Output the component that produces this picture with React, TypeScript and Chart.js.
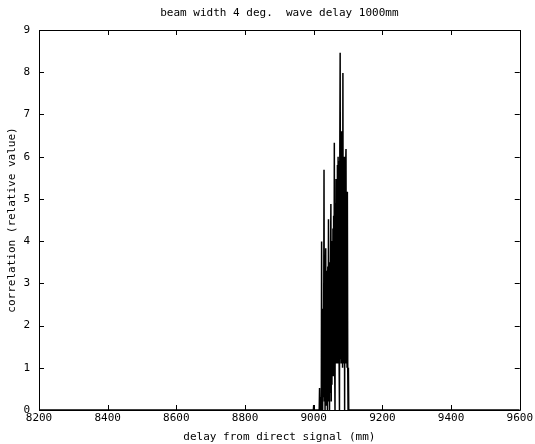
import { useEffect, useRef } from "react";
import { Chart, registerables } from "chart.js";

Chart.register(...registerables);

// Correlation samples, one per millimetre of delay, starting at DELAY_START.
const DELAY_START = 8999;
const DELAY_STEP = 1;
const CORRELATION = [
  0, 0.12, 0, 0, 0, 0, 0, 0, 0, 0,
  0, 0, 0, 0, 0, 0, 0, 0, 0.52, 0,
  0.15, 0, 0.3, 0, 3.99, 0.1, 1.6, 0, 2.4, 0.3,
  1.8, 5.69, 0.2, 2.6, 0, 3.1, 3.83, 0.1, 3.3, 0.4,
  2.9, 0, 3.4, 0.2, 4.52, 0.3, 3.5, 0, 3.2, 0.4,
  3.6, 4.88, 0.2, 3.3, 0.6, 4.0, 1.1, 4.3, 0.8, 4.6,
  1.2, 6.33, 1.1, 0, 4.9, 1.2, 5.47, 1.1, 5.3, 1.3,
  5.8, 1.1, 6.0, 1.2, 5.9, 1.1, 0, 6.2, 8.46, 1.2,
  6.6, 1.1, 6.5, 1.3, 6.6, 1.0, 7.98, 1.1, 6.0, 1.2,
  5.9, 0, 6.0, 1.1, 5.8, 6.18, 1.1, 4.6, 1.0, 5.17,
  1.1, 0, 1.0, 0, 0, 0,
];

// Delay range shown on the x axis (mm); the trace is flat at zero outside the burst.
const DELAY_MIN = 8200;
const DELAY_MAX = 9600;
const X_TICKS = [8200, 8400, 8600, 8800, 9000, 9200, 9400, 9600];
const Y_TICKS = [0, 1, 2, 3, 4, 5, 6, 7, 8, 9];

const TITLE = "beam width 4 deg.  wave delay 1000mm";
const X_LABEL = "delay from direct signal (mm)";
const Y_LABEL = "correlation (relative value)";

const FONT_FAMILY = "'DejaVu Sans Mono', monospace";

// Box around the axes with short inward ticks on all four sides, plus the title.
const boxPlugin = {
  id: "matlabBox",
  afterDraw(chart: any) {
    const { ctx, chartArea } = chart;
    const { left, right, top, bottom } = chartArea;
    const xs = chart.scales.x;
    const ys = chart.scales.y;
    const tick = 5;
    ctx.save();
    ctx.strokeStyle = "#000";
    ctx.lineWidth = 1;
    ctx.beginPath();
    ctx.rect(Math.round(left) + 0.5, Math.round(top) + 0.5, Math.round(right - left), Math.round(bottom - top));
    for (const v of X_TICKS) {
      const px = Math.round(xs.getPixelForValue(v)) + 0.5;
      ctx.moveTo(px, bottom);
      ctx.lineTo(px, bottom - tick);
      ctx.moveTo(px, top);
      ctx.lineTo(px, top + tick);
    }
    for (const v of Y_TICKS) {
      const py = Math.round(ys.getPixelForValue(v)) + 0.5;
      ctx.moveTo(left, py);
      ctx.lineTo(left + tick, py);
      ctx.moveTo(right, py);
      ctx.lineTo(right - tick, py);
    }
    ctx.stroke();

    ctx.fillStyle = "#000";
    ctx.font = `11px ${FONT_FAMILY}`;
    ctx.textAlign = "center";
    ctx.textBaseline = "middle";
    ctx.fillText(TITLE, (left + right) / 2, 13);
    ctx.restore();
  },
};

export default function App() {
  const canvasRef = useRef<HTMLCanvasElement | null>(null);

  useEffect(() => {
    const canvas = canvasRef.current;
    if (!canvas) return;

    const points = [
      { x: DELAY_MIN, y: 0 },
      ...CORRELATION.map((v, i) => ({ x: DELAY_START + i * DELAY_STEP, y: v })),
      { x: DELAY_MAX, y: 0 },
    ];

    const tickFont = { family: FONT_FAMILY, size: 11 };

    const chart = new Chart(canvas, {
      type: "line",
      data: {
        datasets: [
          {
            data: points,
            borderColor: "#000",
            borderWidth: 1.5,
            pointRadius: 0,
            // a tiny tension keeps every zig-zag segment instead of collapsing columns
            tension: 0.000001,
            fill: false,
          },
        ],
      },
      options: {
        animation: false,
        responsive: false,
        devicePixelRatio: 1,
        layout: { padding: { top: 30, right: 15, left: 0, bottom: 0 } },
        plugins: {
          legend: { display: false },
          tooltip: { enabled: false },
          title: { display: false },
        },
        scales: {
          x: {
            type: "linear",
            min: DELAY_MIN,
            max: DELAY_MAX,
            border: { display: false },
            grid: { display: false, drawTicks: false },
            afterBuildTicks: (s: any) => {
              s.ticks = X_TICKS.map((v) => ({ value: v }));
            },
            afterFit: (s: any) => {
              s.height = 34;
            },
            ticks: {
              color: "#000",
              font: tickFont,
              padding: 2,
              maxRotation: 0,
              autoSkip: false,
              callback: (v: any) => String(v),
            },
            title: {
              display: true,
              text: X_LABEL,
              color: "#000",
              font: tickFont,
              padding: { top: 0, bottom: 0.5 },
            },
          },
          y: {
            type: "linear",
            min: 0,
            max: 9,
            border: { display: false },
            grid: { display: false, drawTicks: false },
            afterBuildTicks: (s: any) => {
              s.ticks = Y_TICKS.map((v) => ({ value: v }));
            },
            afterFit: (s: any) => {
              s.width = 39;
            },
            ticks: {
              color: "#000",
              font: tickFont,
              padding: 9,
              autoSkip: false,
              callback: (v: any) => String(v),
            },
            title: {
              display: true,
              text: Y_LABEL,
              color: "#000",
              font: tickFont,
              padding: { top: 6, bottom: 0 },
            },
          },
        },
      },
      plugins: [boxPlugin],
    });

    return () => chart.destroy();
  }, []);

  return (
    <div style={{ position: "absolute", left: 0, top: 0, width: 535, height: 444, background: "#fff" }}>
      <canvas ref={canvasRef} width={535} height={444} style={{ display: "block" }} />
    </div>
  );
}
